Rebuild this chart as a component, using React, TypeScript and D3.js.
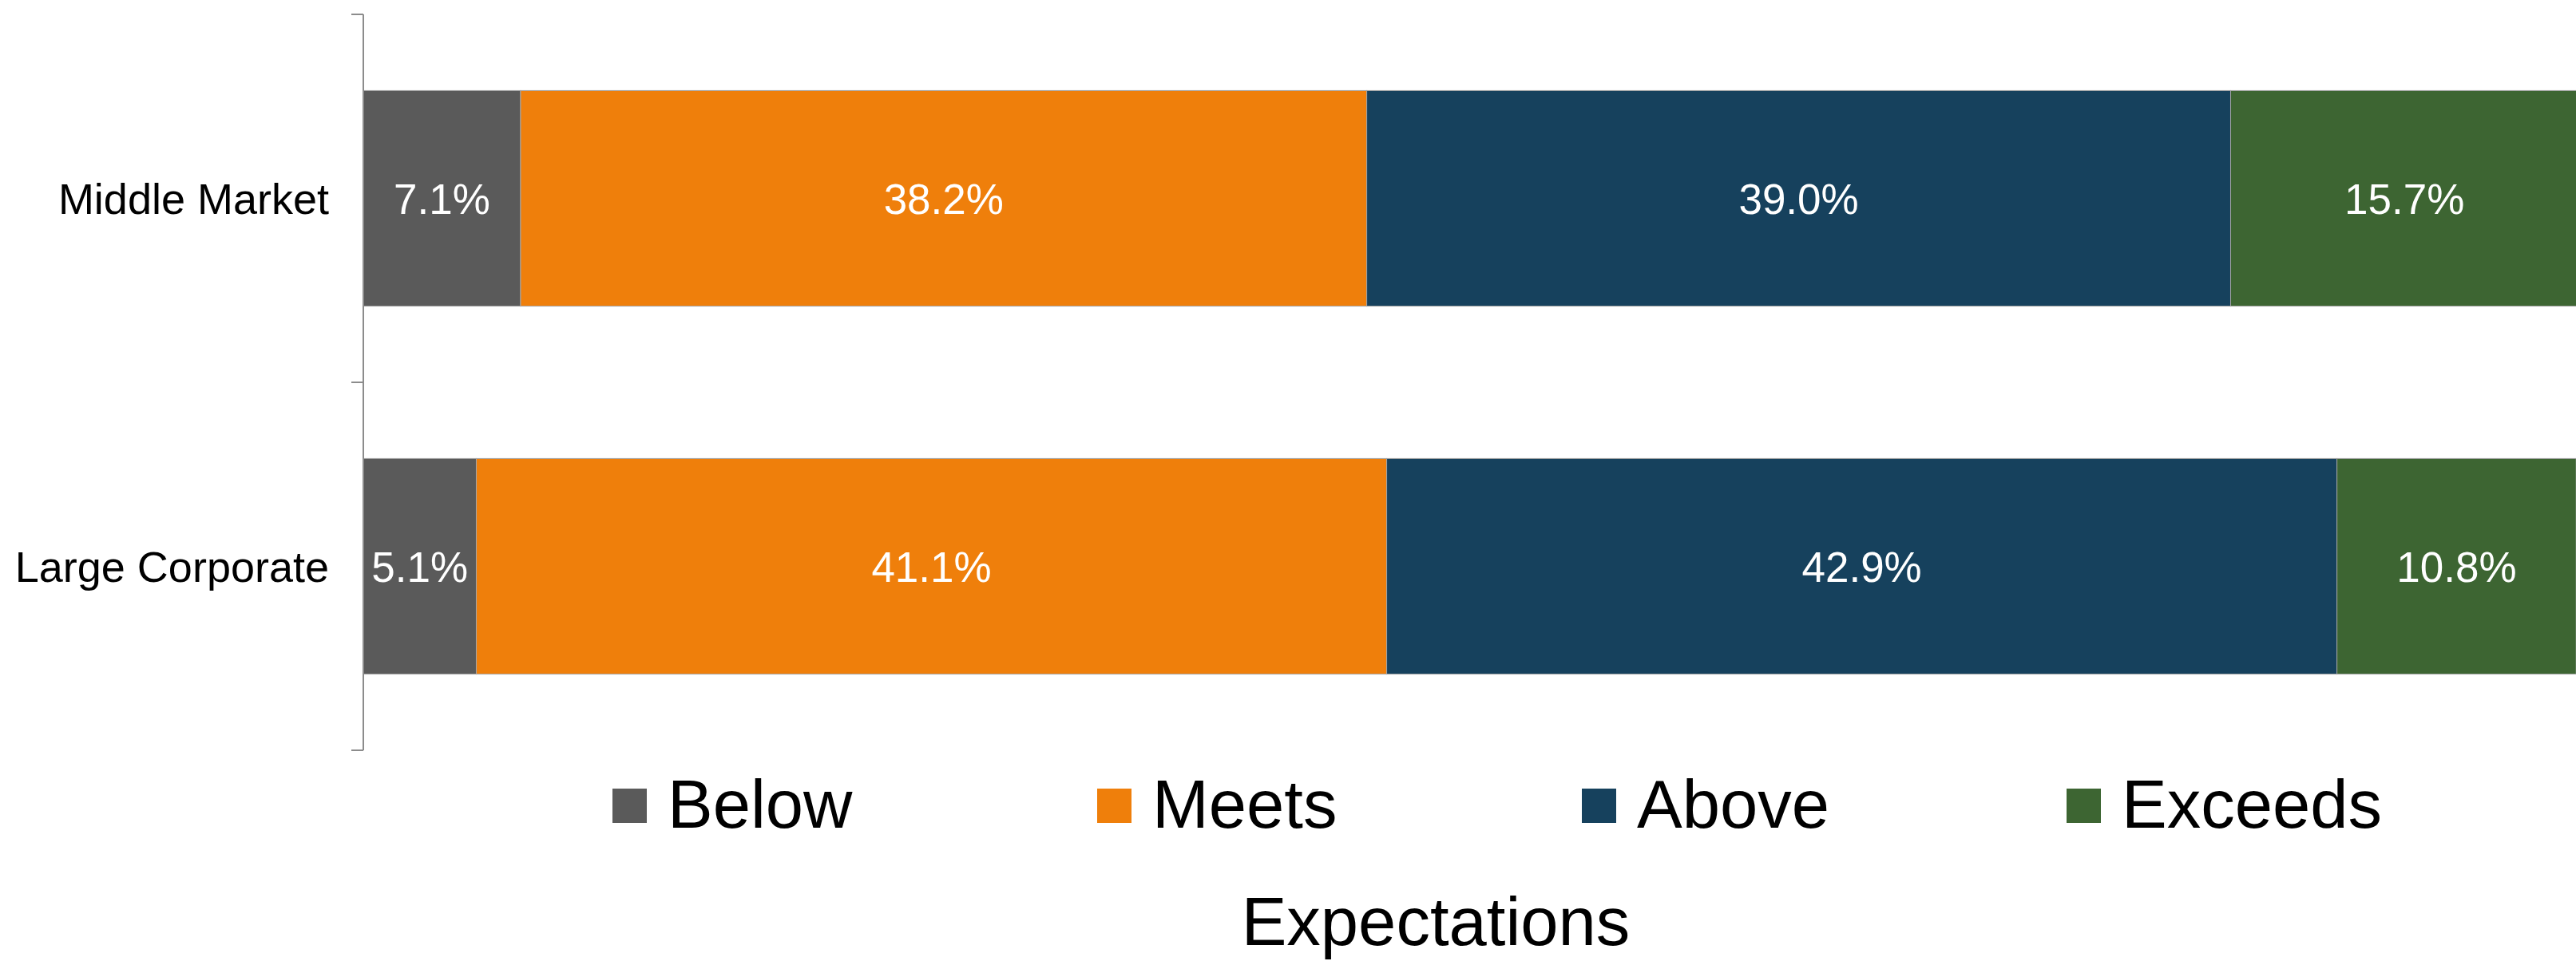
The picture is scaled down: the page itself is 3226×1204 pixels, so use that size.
import React from "react";
import * as d3 from "d3";

const categories = ["Middle Market", "Large Corporate"];
const seriesNames = ["Below", "Meets", "Above", "Exceeds"];
const below = [7.1, 5.1];
const meets = [38.2, 41.1];
const above = [39.0, 42.9];
const exceeds = [15.7, 10.8];
const colors = ["#5a5a5a", "#ef7f0b", "#16415d", "#3d6532"];
const axisTitle = "Expectations";

const W = 3226;
const H = 1204;
const FONT = "'Liberation Sans', Arial, Helvetica, sans-serif";

export default function App() {
  const rows = categories.map((c, i) => ({
    category: c,
    Below: below[i],
    Meets: meets[i],
    Above: above[i],
    Exceeds: exceeds[i],
  }));
  const stack = d3.stack<any>().keys(seriesNames);
  const layers = stack(rows);

  const x = d3.scaleLinear().domain([0, 100]).range([455, 3229]);
  const yCat = d3.scaleBand().domain(categories).range([18, 940]).padding(0);
  const y = d3
    .scaleBand()
    .domain(categories)
    .range([18, 940])
    .paddingInner(0.414)
    .paddingOuter(0.207);
  const color = d3.scaleOrdinal<string, string>().domain(seriesNames).range(colors);
  const fmt = d3.format(".1f");

  const tickYs = [18, ...categories.map((c) => (yCat(c) as number) + yCat.bandwidth())];

  const legendX0 = 767;
  const legendStep = 607;

  return (
    <svg
      width={W}
      height={H}
      style={{ position: "fixed", left: 0, top: 0, background: "#fff" }}
      fontFamily={FONT}
    >
      <rect x={0} y={0} width={W} height={H} fill="#fff" />
      {layers.map((layer) => (
        <g key={layer.key}>
          {layer.map((d, i) => {
            const x0 = x(d[0]);
            const x1 = x(d[1]);
            const yy = y(categories[i]) as number;
            return (
              <g key={i}>
                <rect
                  x={x0}
                  y={yy}
                  width={x1 - x0}
                  height={y.bandwidth()}
                  fill={color(layer.key)}
                  stroke="#a6a6a6"
                  strokeWidth={1}
                />
                <text
                  x={(x0 + x1) / 2}
                  y={yy + y.bandwidth() / 2}
                  dy="0.36em"
                  textAnchor="middle"
                  fill="#fff"
                  fontSize={53}
                >
                  {fmt(d[1] - d[0]) + "%"}
                </text>
              </g>
            );
          })}
        </g>
      ))}
      {/* axis */}
      <line x1={455} x2={455} y1={18} y2={940} stroke="#8c8c8c" strokeWidth={2} />
      {tickYs.map((t, i) => (
        <line key={i} x1={440} x2={455} y1={t} y2={t} stroke="#8c8c8c" strokeWidth={2} />
      ))}
      {categories.map((c) => (
        <text
          key={c}
          x={412}
          y={(yCat(c) as number) + yCat.bandwidth() / 2}
          dy="0.36em"
          textAnchor="end"
          fontSize={54}
          fill="#000"
        >
          {c}
        </text>
      ))}
      {/* legend */}
      {seriesNames.map((s, i) => {
        const lx = legendX0 + i * legendStep;
        return (
          <g key={s}>
            <rect x={lx} y={988} width={43} height={43} fill={color(s)} />
            <text x={lx + 69} y={1037} fontSize={85} fill="#000">
              {s}
            </text>
          </g>
        );
      })}
      <text x={1798} y={1184} textAnchor="middle" fontSize={85} fill="#000">
        {axisTitle}
      </text>
    </svg>
  );
}
